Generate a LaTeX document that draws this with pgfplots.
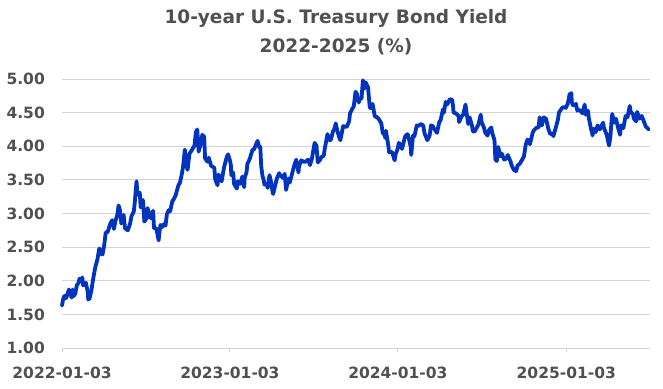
\documentclass[border=0pt]{standalone}
\usepackage{fontspec}
\setmainfont{DejaVu Sans}
\usepackage{pgfplots}
\pgfplotsset{compat=1.18}
\usepackage{pgfplotstable}
\definecolor{linecol}{RGB}{0,52,190}
\definecolor{txt}{RGB}{80,80,80}
\definecolor{gridc}{RGB}{212,212,212}
\pgfplotstableread{
d y
0 1.63
2 1.71
4 1.76
7 1.78
9 1.74
11 1.78
15 1.87
17 1.83
21 1.75
23 1.87
25 1.77
29 1.81
32 1.93
36 1.97
38 2.03
42 1.99
44 2.05
46 1.93
52 1.97
56 1.83
57 1.72
60 1.74
64 1.86
67 2.00
72 2.19
77 2.32
81 2.48
85 2.40
88 2.39
92 2.54
95 2.72
99 2.72
105 2.85
109 2.90
113 2.77
116 2.89
120 2.97
123 3.12
126 3.05
129 2.85
134 2.98
137 2.78
143 2.75
148 2.85
151 2.96
156 3.03
158 3.15
162 3.48
164 3.28
169 3.31
171 3.09
176 3.20
179 2.88
184 2.93
186 3.08
191 2.96
193 2.93
198 3.04
200 2.78
205 2.78
210 2.60
212 2.73
214 2.83
218 2.80
221 2.84
225 2.82
228 2.99
232 3.05
235 3.03
240 3.19
242 3.20
247 3.27
253 3.42
256 3.45
260 3.57
263 3.69
267 3.95
269 3.75
273 3.65
277 3.89
283 3.95
288 4.01
291 4.21
294 4.25
297 3.92
302 4.05
305 4.17
309 4.14
311 3.82
316 3.77
319 3.83
324 3.71
331 3.68
333 3.51
338 3.42
340 3.58
344 3.50
347 3.48
352 3.68
358 3.84
361 3.88
365 3.79
367 3.72
368 3.57
372 3.61
374 3.44
380 3.37
382 3.48
387 3.44
392 3.55
396 3.39
397 3.53
401 3.61
403 3.74
408 3.81
414 3.95
417 3.95
425 4.08
429 3.98
431 3.99
433 3.70
436 3.55
438 3.51
440 3.43
445 3.44
447 3.38
451 3.57
454 3.48
458 3.31
459 3.29
463 3.41
467 3.52
472 3.60
474 3.57
480 3.53
484 3.59
487 3.35
492 3.52
495 3.46
500 3.59
505 3.72
509 3.80
514 3.61
515 3.70
520 3.79
525 3.77
529 3.77
535 3.80
539 3.72
543 3.81
549 4.05
553 4.01
556 3.76
561 3.80
564 3.84
569 3.86
571 3.96
577 4.18
581 4.09
584 4.09
589 4.22
592 4.26
595 4.34
598 4.24
603 4.12
605 4.09
611 4.30
616 4.29
619 4.29
624 4.37
626 4.49
631 4.56
634 4.59
638 4.81
641 4.78
645 4.65
647 4.70
651 4.71
654 4.98
658 4.86
660 4.95
665 4.88
667 4.73
669 4.57
673 4.57
675 4.63
680 4.44
683 4.44
688 4.41
694 4.34
697 4.20
701 4.17
703 4.12
704 4.23
709 4.02
711 3.91
715 3.92
718 3.90
723 3.79
725 3.88
729 3.95
732 4.05
736 4.02
739 3.96
744 4.10
746 4.15
751 4.18
753 4.14
758 3.99
759 3.87
763 4.16
766 4.15
771 4.31
774 4.30
780 4.33
785 4.31
788 4.19
794 4.09
799 4.16
802 4.31
806 4.30
808 4.27
815 4.20
820 4.36
823 4.39
828 4.55
830 4.50
834 4.66
837 4.62
843 4.70
848 4.69
850 4.59
851 4.50
856 4.49
862 4.45
863 4.36
868 4.44
872 4.47
877 4.62
879 4.51
883 4.33
886 4.43
891 4.31
893 4.22
897 4.22
900 4.26
905 4.32
910 4.47
912 4.36
917 4.28
920 4.20
925 4.16
928 4.24
933 4.28
935 4.20
940 4.09
942 3.80
945 3.78
948 3.99
953 3.85
956 3.89
961 3.80
966 3.82
969 3.87
975 3.77
977 3.72
982 3.65
987 3.63
990 3.71
995 3.74
1001 3.81
1004 3.85
1008 4.03
1012 4.10
1017 4.03
1023 4.20
1026 4.24
1032 4.28
1036 4.28
1038 4.43
1043 4.31
1047 4.43
1052 4.41
1057 4.26
1061 4.18
1066 4.19
1068 4.15
1073 4.27
1078 4.40
1080 4.50
1082 4.52
1088 4.58
1093 4.58
1095 4.57
1099 4.63
1101 4.69
1103 4.77
1107 4.79
1108 4.66
1110 4.61
1115 4.61
1117 4.63
1120 4.53
1124 4.54
1128 4.52
1131 4.49
1136 4.62
1138 4.47
1143 4.53
1145 4.42
1150 4.25
1152 4.21
1153 4.16
1156 4.26
1160 4.21
1164 4.31
1169 4.25
1176 4.35
1178 4.27
1184 4.17
1189 4.01
1192 4.15
1194 4.34
1196 4.48
1200 4.35
1204 4.41
1208 4.29
1213 4.17
1215 4.31
1220 4.27
1225 4.45
1229 4.43
1234 4.60
1236 4.51
1241 4.48
1243 4.41
1248 4.37
1250 4.51
1255 4.41
1260 4.45
1264 4.38
1269 4.29
1271 4.28
1275 4.25
}\yld
\begin{document}
\begin{tikzpicture}[x=1pt,y=1pt]
\path[use as bounding box] (0,0) rectangle (663,388);
\begin{axis}[
  at={(62pt,40pt)}, anchor=south west,
  scale only axis, width=588pt, height=269pt,
  xmin=0, xmax=1278, ymin=1, ymax=5,
  axis line style={draw=none},
  tick pos=left, tick align=outside, major tick length=4pt,
  xtick={0,365,730,1096},
  xticklabels={2022-01-03,2023-01-03,2024-01-03,2025-01-03},
  ytick={1,1.5,...,5.01},
  ymajorgrids, grid style={draw=gridc, line width=1pt},
  xtick style={draw=gridc, line width=1pt},
  ytick style={draw=none},
  /pgf/number format/assume math mode=true,
  yticklabel style={/pgf/number format/fixed, /pgf/number format/fixed zerofill, /pgf/number format/precision=2},
  every tick label/.append style={font=\bfseries\fontsize{15.5}{16}\selectfont, text=txt, inner sep=0pt},
  yticklabel style={anchor=east, xshift=-13pt},
  xticklabel style={anchor=north, yshift=-15pt},
  clip=false,
]
\addplot[draw=linecol, line width=3.8pt, line join=round, line cap=round] table[x=d, y=y] {\yld};
\end{axis}
\node[anchor=base, text=txt, font=\bfseries\fontsize{18.5}{20}\selectfont, inner sep=0pt] at (336,364) {10-year U.S. Treasury Bond Yield};
\node[anchor=base, text=txt, font=\bfseries\fontsize{18.5}{20}\selectfont, inner sep=0pt] at (336,335) {2022-2025 (\%)};
\end{tikzpicture}
\end{document}
